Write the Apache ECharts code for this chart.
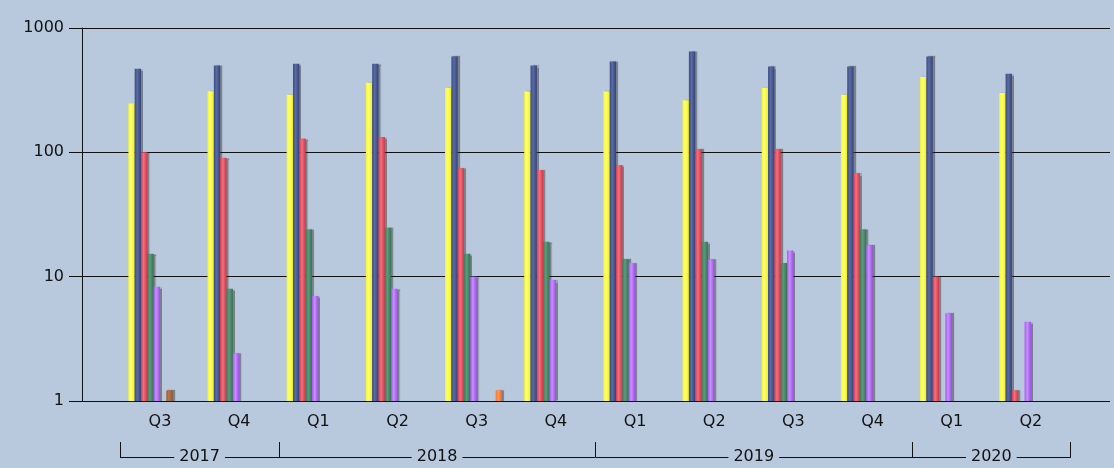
<!DOCTYPE html>
<html>
<head>
<meta charset="utf-8">
<script src="https://cdn.jsdelivr.net/npm/echarts@6/dist/echarts.min.js"></script>
<style>
  html, body { margin: 0; padding: 0; background: #B9C9DD; }
  #chart { width: 1114px; height: 468px; }
</style>
</head>
<body>
<div id="chart"></div>
<script>
// quarters along the bottom, years in the bracket row under them
const quarters = ['Q3', 'Q4', 'Q1', 'Q2', 'Q3', 'Q4', 'Q1', 'Q2', 'Q3', 'Q4', 'Q1', 'Q2'];
const yearSlots = ['', '2017', '', '', '2018', '', '', '', '2019', '', '', '2020', ''];
const yearBounds = [0, 2, 6, 10, 12];
const yTicks = [1, 10, 100, 1000];

// series values (log scale)
const yellowVals = [247, 310, 291, 363, 329, 310, 310, 262, 329, 291, 403, 300];
const navyVals = [470, 500, 515, 515, 590, 500, 538, 647, 491, 491, 590, 429];
const redVals = [100, 90.6, 129, 133, 74.5, 72.2, 79.2, 106, 106, 67.9, 10, 1.22];
const greenVals = [15.3, 8.0, 23.9, 24.7, 15.3, 19.1, 13.8, 19.1, 12.9, 23.9, null, null];
const purpleVals = [8.3, 2.42, 7.0, 8.0, 10, 9.4, 12.9, 13.8, 16.2, 17.9, 5.09, 4.34];
const cyanVals = [null, null, null, null, null, null, null, null, null, null, null, null];
const brownVals = [1.22, null, null, null, null, null, null, null, null, null, null, null];
const oliveVals = [null, null, null, null, null, null, null, null, null, null, null, null];
const orangeVals = [null, null, null, null, 1.22, null, null, null, null, null, null, null];
const grayVals = [null, null, null, null, null, null, null, null, null, null, null, null];

const bg = '#B9C9DD';
const ink = '#111111';
const font = 'DejaVu Sans';

// left edge, highlight, right edge
function barColor(edge, light, dark) {
    return new echarts.graphic.LinearGradient(0, 0, 1, 0, [
        { offset: 0, color: edge },
        { offset: 0.4, color: light },
        { offset: 1, color: dark }
    ]);
}

const seriesDefs = [
    { name: 'yellow', data: yellowVals, c: ['#F4F430', '#FFFF70', '#F0F020'] },
    { name: 'navy', data: navyVals, c: ['#3A4A80', '#5A6CA4', '#34437A'] },
    { name: 'red', data: redVals, c: ['#DC3A4A', '#F2707E', '#D23444'] },
    { name: 'green', data: greenVals, c: ['#3A7A5A', '#5C9C7C', '#347252'] },
    { name: 'purple', data: purpleVals, c: ['#A656F0', '#C890FF', '#9E4EE8'] },
    { name: 'cyan', data: cyanVals, c: ['#40B0C0', '#70D0E0', '#3AA0B0'] },
    { name: 'brown', data: brownVals, c: ['#9A5C36', '#B8784E', '#92542E'] },
    { name: 'olive', data: oliveVals, c: ['#A0A040', '#C0C060', '#909030'] },
    { name: 'orange', data: orangeVals, c: ['#F8702A', '#FF9A58', '#F06422'] },
    { name: 'gray', data: grayVals, c: ['#808080', '#A0A0A0', '#707070'] }
];

const chart = echarts.init(document.getElementById('chart'));

const option = {
    backgroundColor: bg,
    animation: false,
    grid: [
        // frame with gridlines and y axis
        { left: 82, right: 4, top: 28, bottom: 67, outerBoundsMode: 'none' },
        // bars and quarter labels
        { left: 120.4, right: 43.5, top: 28, bottom: 67, outerBoundsMode: 'none' },
        // short ticks left of the y axis
        { left: 69, width: 13, top: 28, bottom: 67, outerBoundsMode: 'none' }
    ],
    xAxis: [
        { gridIndex: 0, type: 'value', min: 0, max: 1, show: false },
        {
            gridIndex: 1,
            type: 'category',
            position: 'bottom',
            data: quarters,
            axisLine: { show: false },
            axisTick: { show: false },
            splitLine: { show: false },
            axisLabel: { color: ink, fontFamily: font, fontSize: 16, margin: 13, interval: 0 }
        },
        {
            gridIndex: 1,
            type: 'category',
            position: 'bottom',
            offset: 56,
            boundaryGap: false,
            data: yearSlots,
            axisLine: { show: true, lineStyle: { color: ink, width: 1 } },
            axisTick: {
                show: true,
                inside: true,
                length: 15,
                lineStyle: { color: ink, width: 1 },
                interval: (i) => yearBounds.indexOf(i) >= 0
            },
            splitLine: { show: false },
            axisLabel: {
                color: ink,
                fontFamily: font,
                fontSize: 16,
                margin: 0,
                verticalAlign: 'middle',
                backgroundColor: bg,
                padding: [0, 5],
                interval: (i, v) => v !== ''
            }
        },
        { gridIndex: 2, type: 'value', min: 0, max: 1, show: false }
    ],
    yAxis: [
        {
            gridIndex: 0,
            type: 'log',
            logBase: 10,
            min: yTicks[0],
            max: yTicks[yTicks.length - 1],
            axisLine: { show: true, lineStyle: { color: ink, width: 1 } },
            axisTick: { show: false },
            minorTick: { show: false },
            splitLine: { show: true, lineStyle: { color: ink, width: 1 } },
            axisLabel: {
                color: ink,
                fontFamily: font,
                fontSize: 16,
                margin: 18,
                formatter: (v) => String(Math.round(v))
            }
        },
        { gridIndex: 1, type: 'log', logBase: 10, min: yTicks[0], max: yTicks[yTicks.length - 1], show: false },
        {
            gridIndex: 2,
            type: 'log',
            logBase: 10,
            min: yTicks[0],
            max: yTicks[yTicks.length - 1],
            axisLine: { show: false },
            axisTick: { show: false },
            axisLabel: { show: false },
            splitLine: { show: true, lineStyle: { color: ink, width: 1 } }
        }
    ],
    series: seriesDefs.map(s => ({
        name: s.name,
        type: 'bar',
        xAxisIndex: 1,
        yAxisIndex: 1,
        data: s.data,
        barWidth: 6.33,
        barGap: '0%',
        itemStyle: {
            color: barColor(s.c[0], s.c[1], s.c[2]),
            shadowColor: 'rgba(40, 40, 40, 0.45)',
            shadowOffsetX: 2,
            shadowBlur: 1
        }
    }))
};

chart.setOption(option);
</script>
</body>
</html>
